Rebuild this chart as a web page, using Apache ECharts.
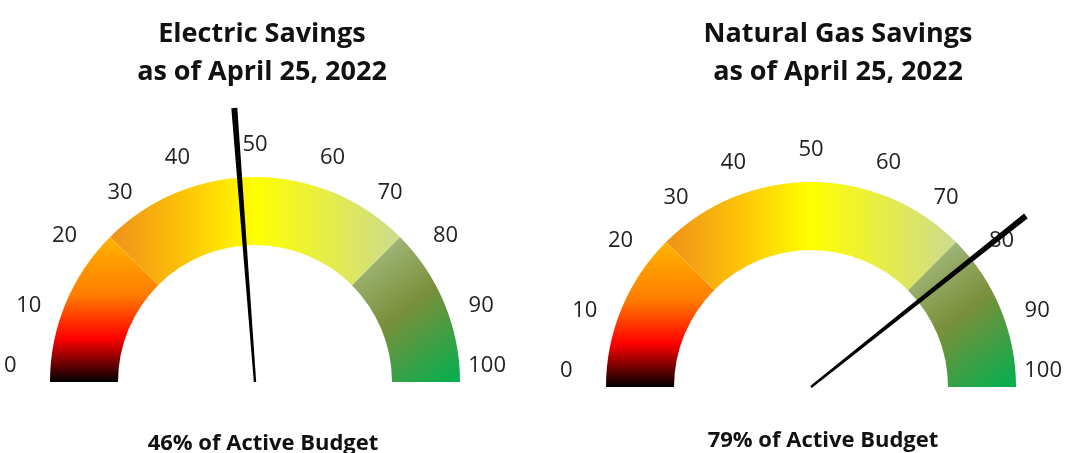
<!DOCTYPE html>
<html>
<head>
<meta charset="utf-8">
<script src="https://cdn.jsdelivr.net/npm/echarts@6/dist/echarts.min.js"></script>
<style>
html,body{margin:0;padding:0;background:#fff;}
#chart{width:1071px;height:453px;}
</style>
</head>
<body>
<div id="chart"></div>
<script>
// ---- data ----
const gaugeTitles = ['Electric Savings', 'Natural Gas Savings'];
const asOfLine = 'as of April 25, 2022';
const needleValues = [47.6, 78.6];      // needle positions
const budgetPercents = [46, 79];        // value printed under each gauge
const bandStops = [25, 75, 100];        // colour band boundaries (gauge %)
const scaleMin = 0;
const scaleMax = 100;
const scaleSplits = 10;

// ---- styles ----
const centers = [[255, 382], [811, 387]];
const titleX = [257, 833];
const footX = [258, 818];
const footY = [428, 425];
const R = 205, BAND = 68;

const bandColors = [
  new echarts.graphic.LinearGradient(0, 0, 0, 1, [
    {offset: 0, color: '#FFB400'},
    {offset: 0.4, color: '#FF7C00'},
    {offset: 0.7, color: '#FF0000'},
    {offset: 0.85, color: '#800000'},
    {offset: 1, color: '#000000'}
  ]),
  new echarts.graphic.LinearGradient(0, 0, 1, 0, [
    {offset: 0, color: '#F0901A'},
    {offset: 0.25, color: '#FCC208'},
    {offset: 0.5, color: '#FFFF00'},
    {offset: 0.75, color: '#E6EC48'},
    {offset: 1, color: '#CBDB90'}
  ]),
  new echarts.graphic.LinearGradient(0, 0, 1, 1, [
    {offset: 0, color: '#AFC590'},
    {offset: 0.5, color: '#7A8F3A'},
    {offset: 1, color: '#00B050'}
  ])
];

function bandColorList() {
  return bandStops.map((s, i) => [(s - scaleMin) / (scaleMax - scaleMin), bandColors[i]]);
}

const chart = echarts.init(document.getElementById('chart'), null, {renderer: 'canvas'});

const titles = [];
const series = [];
gaugeTitles.forEach((t, i) => {
  titles.push({
    text: t + '\n' + asOfLine,
    left: titleX[i], top: 10, textAlign: 'center',
    textStyle: {fontFamily: '"Open Sans"', fontWeight: 'bold', fontSize: 27, lineHeight: 38, color: '#111'}
  });
  titles.push({
    text: budgetPercents[i] + '% of Active Budget',
    left: footX[i], top: footY[i], textAlign: 'center',
    textStyle: {fontFamily: '"Open Sans"', fontWeight: 'bold', fontSize: 22, color: '#111'}
  });
  series.push({
    type: 'gauge',
    center: centers[i],
    radius: R,
    startAngle: 180, endAngle: 0,
    min: scaleMin, max: scaleMax,
    splitNumber: scaleSplits,
    axisLine: {show: true, roundCap: false, lineStyle: {width: BAND, color: bandColorList()}},
    axisTick: {show: false},
    splitLine: {show: false},
    axisLabel: {
      show: true,
      distance: -66,
      color: '#222',
      fontFamily: '"Open Sans"',
      fontSize: 22,
      align: 'center',
      verticalAlign: 'middle',
      formatter: function (v) {
        if (v === scaleMin || v === scaleMax) return '{e|' + v + '}';
        return '{n|' + v + '}';
      },
      rich: {
        e: {fontFamily: '"Open Sans"', fontSize: 22, color: '#222', padding: [0, 0, 32, 0]},
        n: {fontFamily: '"Open Sans"', fontSize: 22, color: '#222', padding: [3, 0, 0, 0]}
      }
    },
    pointer: {
      show: true,
      icon: 'path://M0,0 L10,0 L7,100 L3,100 Z',
      length: '134%',
      width: 6,
      offsetCenter: [0, 0],
      itemStyle: {color: '#000'}
    },
    anchor: {show: false},
    title: {show: false},
    detail: {show: false},
    animation: false,
    data: [{value: needleValues[i]}]
  });
});

chart.setOption({
  backgroundColor: '#ffffff',
  animation: false,
  title: titles,
  series: series
});
</script>
</body>
</html>
